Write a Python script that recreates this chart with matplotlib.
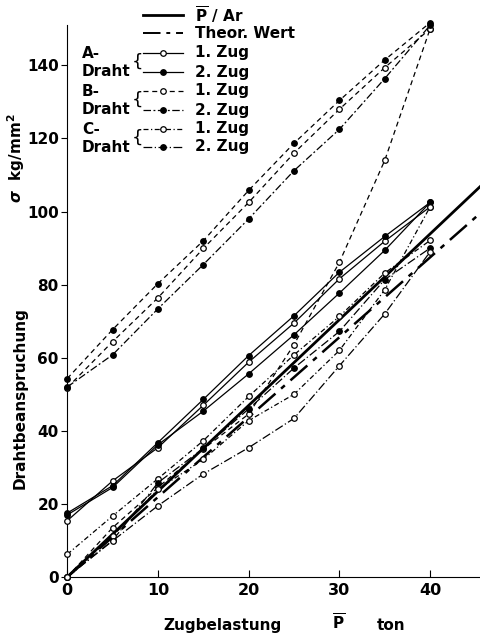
import matplotlib
matplotlib.use("Agg")
import matplotlib.pyplot as plt
from matplotlib.lines import Line2D

plt.rcParams["font.family"] = ["DejaVu Sans"]
plt.rcParams["font.weight"] = "bold"

# load steps (ton)
load = [0, 5, 10, 15, 20, 25, 30, 35, 40]

# A-Draht (solid lines)
a_zug1 = [15.4, 26.3, 35.4, 47.0, 58.8, 69.5, 81.6, 91.9, 101.3]
a_zug2 = [17.5, 25.0, 36.8, 48.6, 60.6, 71.5, 83.4, 93.2, 102.5]
a_zug2b = [17.0, 24.5, 36.2, 45.4, 55.6, 66.3, 77.7, 89.4, 102.5]

# B-Draht
b_zug1 = [0.0, 13.5, 24.5, 35.0, 44.6, 63.6, 86.1, 114.0, 150.0]
b_zug2 = [54.3, 67.7, 80.3, 92.0, 105.8, 118.7, 130.4, 141.5, 151.7]
b_zug1b = [51.8, 64.4, 76.4, 89.9, 102.5, 116.0, 128.0, 139.4, 150.0]

# C-Draht
c_zug1 = [6.2, 16.7, 26.9, 37.3, 49.4, 60.8, 71.3, 83.2, 92.1]
c_zug2 = [0.0, 10.0, 25.8, 35.2, 46.0, 57.2, 67.2, 81.4, 90.0]
c_zug2b = [52.0, 60.8, 73.4, 85.5, 98.0, 111.2, 122.5, 136.4, 151.0]
c_zug1b = [0.0, 11.2, 24.0, 32.2, 42.8, 50.0, 62.0, 78.6, 101.3]
c_zug1c = [0.0, 9.9, 19.5, 28.2, 35.4, 43.4, 57.8, 72.0, 89.0]

# straight reference lines
ref_load = [0, 45.5]
p_over_ar = [0, 106.8]
theor_wert = [0, 99.5]

x_ticks = [0, 10, 20, 30, 40]
y_ticks = [0, 20, 40, 60, 80, 100, 120, 140]

SOLID = "-"
B1_DASH = (0, (4, 3))
B2_DASH = (0, (6, 2, 1.5, 2))
C1_DASH = (0, (4, 2, 1, 2))
C2_DASH = (0, (7, 2, 1, 2))
THEO_DASH = (0, (9, 3, 2, 3))

fig = plt.figure(figsize=(4.8, 6.35), dpi=100)
ax = fig.add_axes([0.14, 0.0913, 0.86, 0.869])


def draw(y, ls, filled):
    ax.plot(load, y, color="black", lw=0.9, linestyle=ls, marker="o", ms=4,
            mfc="black" if filled else "white", mec="black", mew=0.9,
            clip_on=False, zorder=3)


ax.plot(ref_load, p_over_ar, color="black", lw=2.0, clip_on=False)
ax.plot(ref_load, theor_wert, color="black", lw=1.8, linestyle=THEO_DASH,
        clip_on=False)

draw(a_zug1, SOLID, False)
draw(a_zug2, SOLID, True)
draw(a_zug2b, SOLID, True)
draw(b_zug1, B1_DASH, False)
draw(b_zug2, B1_DASH, True)
draw(b_zug1b, B1_DASH, False)
draw(c_zug1, C1_DASH, False)
draw(c_zug2, C2_DASH, True)
draw(c_zug2b, B2_DASH, True)
draw(c_zug1b, C1_DASH, False)
draw(c_zug1c, C2_DASH, False)

ax.set_xlim(0, 45.5)
ax.set_ylim(0, 151)
ax.spines["top"].set_visible(False)
ax.spines["right"].set_visible(False)
ax.set_xticks(x_ticks)
ax.set_yticks(y_ticks)
ax.tick_params(axis="x", direction="in", length=5, labelsize=11.5, pad=4)
ax.tick_params(axis="y", direction="out", length=4, labelsize=11, pad=2)

# axis labels
fig.text(0.042, 1 - 398 / 635, "Drahtbeanspruchung", rotation=90,
         ha="center", va="center", fontsize=11)
fig.text(0.034, 1 - 158 / 635, r"$\sigma$  kg/mm$^2$", rotation=90,
         ha="center", va="center", fontsize=11)
base_y = 1 - 630 / 635
fig.text(223 / 480, base_y, "Zugbelastung", ha="center", va="baseline",
         fontsize=11)
fig.text(339 / 480, base_y, r"$\overline{\mathbf{P}}$", ha="center",
         va="baseline", fontsize=11)
fig.text(391 / 480, base_y, "ton", ha="center", va="baseline",
         fontsize=11)

# hand-made legend
legend_rows = [
    (15, SOLID, None, 2.0, r"$\overline{\mathbf{P}}$ / Ar"),
    (33, THEO_DASH, None, 1.4, "Theor. Wert"),
    (53, SOLID, False, 0.9, "1. Zug"),
    (72, SOLID, True, 0.9, "2. Zug"),
    (91, B1_DASH, False, 0.9, "1. Zug"),
    (110, B2_DASH, True, 0.9, "2. Zug"),
    (129, C1_DASH, False, 0.9, "1. Zug"),
    (147, C2_DASH, True, 0.9, "2. Zug"),
]
for ypx, ls, filled, lw, label in legend_rows:
    yf = 1 - ypx / 635
    fig.add_artist(Line2D([143 / 480, 183 / 480], [yf, yf], color="black",
                          lw=lw, linestyle=ls, transform=fig.transFigure))
    if filled is not None:
        fig.add_artist(Line2D([163 / 480], [yf], marker="o", ms=4,
                              mfc="black" if filled else "white",
                              mec="black", mew=0.9,
                              transform=fig.transFigure))
    fig.text(195 / 480, yf, label, ha="left", va="center", fontsize=11)

for top_px, letter in [(53, "A-"), (91, "B-"), (129, "C-")]:
    fig.text(82 / 480, 1 - top_px / 635, letter, ha="left", va="center",
             fontsize=11)
    fig.text(82 / 480, 1 - (top_px + 18) / 635, "Draht", ha="left",
             va="center", fontsize=11)
    fig.text(137 / 480, 1 - (top_px + 9) / 635, "{", ha="center",
             va="center", fontsize=13, fontweight="normal")

fig.savefig("out.png", dpi=100)
